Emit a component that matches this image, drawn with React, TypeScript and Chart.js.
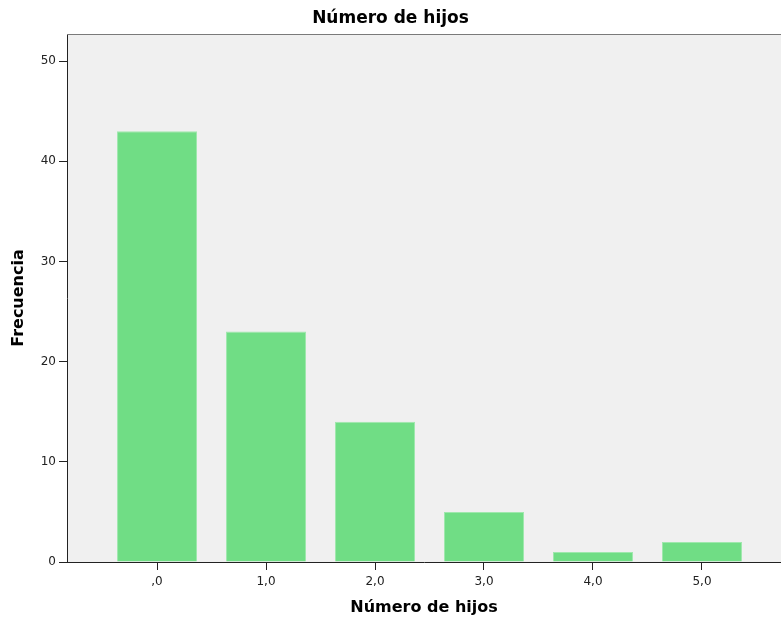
import React, { useEffect, useRef } from "react";
import { Chart, registerables } from "chart.js";

Chart.register(...registerables);

const categories = [",0", "1,0", "2,0", "3,0", "4,0", "5,0"];
const frequencies = [43, 23, 14, 5, 1, 2];
const yTicks = [0, 10, 20, 30, 40, 50];

const FONT = "'DejaVu Sans', Verdana, sans-serif";

const bgPlugin = {
  id: "plotBg",
  beforeDraw(chart: any) {
    const { ctx, chartArea } = chart;
    ctx.save();
    ctx.fillStyle = "#F0F0F0";
    ctx.fillRect(chartArea.left, chartArea.top, chartArea.right - chartArea.left, chartArea.bottom - chartArea.top);
    ctx.restore();
  },
  afterDraw(chart: any) {
    const { ctx, chartArea } = chart;
    ctx.save();
    ctx.strokeStyle = "#7A7A7A";
    ctx.lineWidth = 1;
    ctx.beginPath();
    ctx.moveTo(chartArea.left, chartArea.top + 0.5);
    ctx.lineTo(chartArea.right, chartArea.top + 0.5);
    ctx.stroke();
    ctx.restore();
  },
};

export default function App() {
  const ref = useRef<HTMLCanvasElement | null>(null);

  useEffect(() => {
    document.body.style.margin = "0";
    const canvas = ref.current;
    if (!canvas) return;
    const chart = new Chart(canvas, {
      type: "bar",
      data: {
        datasets: [
          {
            label: "Frecuencia",
            data: frequencies.map((v, i) => ({ x: i, y: v })),
            backgroundColor: "#70DD85",
            borderColor: "#9FE8AD",
            borderWidth: 1,
            categoryPercentage: 1,
            barPercentage: 80 / 109,
          },
        ],
      },
      options: {
        animation: false,
        responsive: false,
        maintainAspectRatio: false,
        layout: { padding: { left: 0, right: 0, top: 0, bottom: 0 } },
        plugins: {
          legend: { display: false },
          tooltip: { enabled: false },
          title: {
            display: true,
            text: "Número de hijos",
            color: "#000",
            font: { family: FONT, size: 17, weight: "bold" },
            padding: { top: 8, bottom: 5.6 },
          },
        },
        scales: {
          x: {
            type: "linear",
            offset: false,
            min: -0.826,
            max: 5.725,
            afterBuildTicks: (scale: any) => {
              scale.ticks = categories.map((_, i) => ({ value: i }));
            },
            afterFit: (scale: any) => {
              scale.height = 61;
            },
            ticks: {
              autoSkip: false,
              maxRotation: 0,
              padding: 5,
              color: "#222",
              font: { family: FONT, size: 12 },
              callback: (v: any) => categories[Math.round(Number(v))] ?? "",
            },
            grid: {
              display: true,
              offset: false,
              drawOnChartArea: false,
              drawTicks: true,
              tickLength: 8,
              color: "#222",
            },
            border: { display: true, color: "#222", width: 1 },
            title: {
              display: true,
              text: "Número de hijos",
              color: "#000",
              font: { family: FONT, size: 16, weight: "bold" },
              padding: { top: 0, bottom: 5.4 },
            },
          },
          y: {
            type: "linear",
            min: 0,
            max: 52.7,
            afterBuildTicks: (scale: any) => {
              scale.ticks = yTicks.map((v) => ({ value: v }));
            },
            afterFit: (scale: any) => {
              scale.width = 67;
            },
            ticks: {
              padding: 3,
              color: "#222",
              font: { family: FONT, size: 12 },
              callback: (v: any) => String(v),
            },
            grid: {
              display: true,
              drawOnChartArea: false,
              drawTicks: true,
              tickLength: 8,
              color: "#222",
            },
            border: { display: true, color: "#222", width: 1 },
            title: {
              display: true,
              text: "Frecuencia",
              color: "#000",
              font: { family: FONT, size: 16, weight: "bold" },
              padding: { top: 9.4, bottom: 0 },
            },
          },
        },
      } as any,
      plugins: [bgPlugin],
    });
    return () => chart.destroy();
  }, []);

  return (
    <div style={{ position: "absolute", left: 0, top: 0, width: 781, height: 623 }}>
      <canvas ref={ref} width={781} height={623} style={{ width: 781, height: 623 }} />
    </div>
  );
}
